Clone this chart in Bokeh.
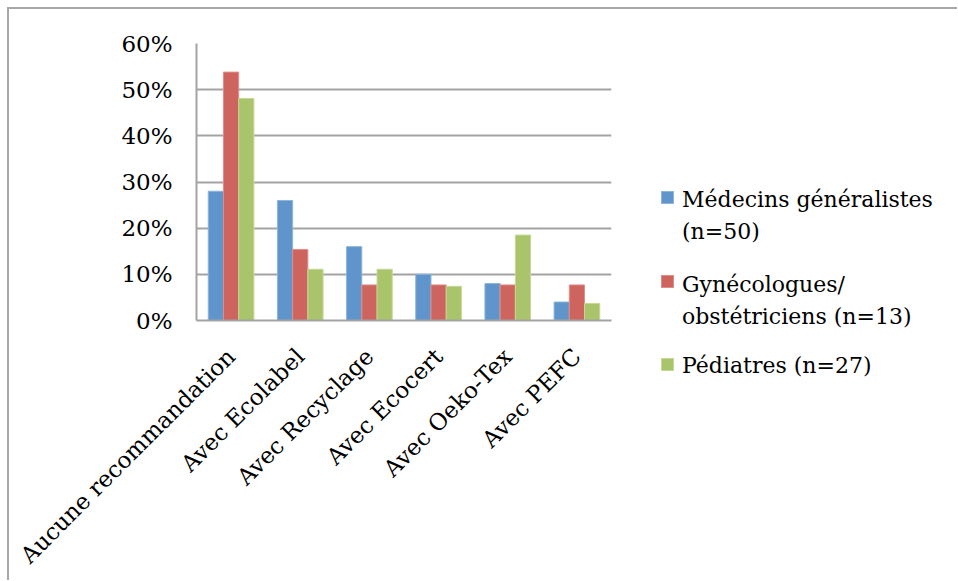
import math
from bokeh.plotting import figure
from bokeh.layouts import row
from bokeh.models import (ColumnDataSource, FactorRange, FixedTicker, NumeralTickFormatter,
                          Range1d, Div)
from bokeh.transform import dodge
from bokeh.embed import file_html
from bokeh.resources import INLINE

categories = ["Aucune recommandation", "Avec Ecolabel", "Avec Recyclage",
              "Avec Ecocert", "Avec Oeko-Tex", "Avec PEFC"]
generalistes = [0.28, 0.26, 0.16, 0.10, 0.08, 0.04]
gynecologues = [0.538, 0.154, 0.077, 0.077, 0.077, 0.077]
pediatres = [0.481, 0.111, 0.111, 0.074, 0.185, 0.037]
series_labels = [["Médecins généralistes", "(n=50)"],
                 ["Gynécologues/", "obstétriciens (n=13)"],
                 ["Pédiatres (n=27)"]]
y_ticks = [0.0, 0.1, 0.2, 0.3, 0.4, 0.5, 0.6]

colors = ["#5F95CA", "#CD655E", "#AAC46B"]
edges = ["#8DB4DC", "#DE8E88", "#C5D896"]
FONT = "DejaVu Serif"
FS = "23px"
LEG_FS = "22px"
GRAY = "#a3a3a3"

source = ColumnDataSource(dict(cat=categories, g=generalistes, y=gynecologues, p=pediatres))

H = 571
W1 = 622
W2 = 326

p = figure(x_range=FactorRange(*categories), y_range=Range1d(0, 0.6),
           width=W1, height=H, output_backend="svg", toolbar_location=None,
           min_border_left=187, min_border_top=34, min_border_right=W1 - 602,
           min_border_bottom=H - 313)
p.outline_line_color = None
p.background_fill_color = "white"
p.border_fill_color = "white"

w = 0.22
for col, off, c, e in zip(["g", "y", "p"], [-w, 0.0, w], colors, edges):
    p.vbar(x=dodge("cat", off, range=p.x_range), top=col, width=w, source=source,
           fill_color=c, line_color=e, line_width=1)

p.x_range.range_padding = 0

p.yaxis.ticker = FixedTicker(ticks=y_ticks)
p.yaxis.formatter = NumeralTickFormatter(format="0%")
p.yaxis.major_label_text_font = FONT
p.yaxis.major_label_text_font_size = FS
p.yaxis.major_label_text_color = "black"
p.yaxis.major_label_standoff = 18
p.yaxis.axis_line_color = GRAY
p.yaxis.axis_line_width = 2
p.yaxis.major_tick_line_color = None
p.yaxis.minor_tick_line_color = None

p.xaxis.major_label_orientation = math.pi / 4
p.xaxis.major_label_text_font = FONT
p.xaxis.major_label_text_font_size = FS
p.xaxis.major_label_text_color = "black"
p.xaxis.major_label_standoff = 26
p.xaxis.axis_line_color = GRAY
p.xaxis.axis_line_width = 2
p.xaxis.major_tick_line_color = None
p.xaxis.minor_tick_line_color = None

p.xgrid.grid_line_color = None
p.ygrid.grid_line_color = GRAY
p.ygrid.grid_line_width = 2

# legend (HTML), positions in px inside the legend box
square_tops = [182, 266, 349]
text_tops = [175, 260, 341]
parts = []
for labels, st, tt, c, e in zip(series_labels, square_tops, text_tops, colors, edges):
    parts.append(
        f'<div style="position:absolute;left:30px;top:{st}px;width:13px;height:13px;'
        f'background:{c};border:1px solid {e};"></div>')
    parts.append(
        f'<div style="position:absolute;left:51px;top:{tt}px;line-height:32px;'
        f'white-space:nowrap;">' + "<br>".join(labels) + '</div>')
html = (f'<div style="position:relative;width:{W2}px;height:{H}px;'
        f'font-family:\'{FONT}\';font-size:{LEG_FS};color:black;">' + "".join(parts) + '</div>')
legend_div = Div(text=html, width=W2, height=H, margin=0)

layout = row(p, legend_div, spacing=0)
layout.styles = {"margin": "7px 0 0 7px", "border-top": "2px solid #a8a8a8",
                 "border-left": "2px solid #a8a8a8"}

open("out.html", "w").write(file_html(layout, INLINE))
